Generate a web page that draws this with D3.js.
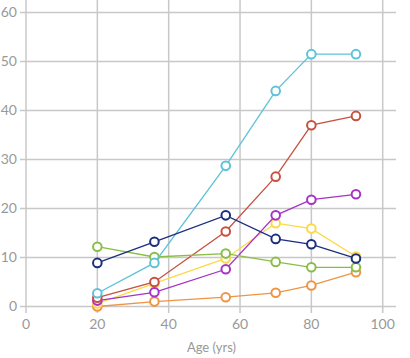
<!DOCTYPE html>
<html><head><meta charset="utf-8">
<script src="https://cdn.jsdelivr.net/npm/d3@7"></script>
<style>
body{margin:0;background:#fff;}
text{font-family:Lato, "Open Sans", sans-serif;}
</style></head>
<body><svg id="c" width="410" height="358"></svg>
<script>
const ages = [20, 36, 56, 70, 80, 92.5];
const xTicks = [0, 20, 40, 60, 80, 100];
const yTicks = [0, 10, 20, 30, 40, 50, 60];
const seriesNames = ["orange", "yellow", "purple", "red", "green", "cyan", "navy"];
const seriesColors = ["#ee9445", "#fbd948", "#a632c6", "#c8503f", "#8abd45", "#5cc3d8", "#1c2f7c"];
const orangeVals = [0, 1.0, 1.9, 2.8, 4.3, 7.0];
const yellowVals = [0.6, 4.7, 9.8, 17.0, 15.9, 10.2];
const purpleVals = [1.2, 2.9, 7.6, 18.6, 21.8, 22.9];
const redVals = [1.8, 5.0, 15.3, 26.5, 37.0, 38.9];
const greenVals = [12.2, 10.1, 10.8, 9.1, 8.0, 8.0];
const cyanVals = [2.7, 8.9, 28.7, 44.0, 51.5, 51.5];
const navyVals = [8.9, 13.2, 18.6, 13.8, 12.7, 9.8];
const allVals = [orangeVals, yellowVals, purpleVals, redVals, greenVals, cyanVals, navyVals];

const svg = d3.select("#c");
const x = d3.scaleLinear().domain([0, 100]).range([26, 382.7]);
const y = d3.scaleLinear().domain([0, 60]).range([306.5, 12.5]);
const grid = "#c8c8c8";

// vertical grid
svg.append("g").selectAll("line").data(xTicks).join("line")
  .attr("x1", d => x(d)).attr("x2", d => x(d))
  .attr("y1", 0).attr("y2", 313)
  .attr("stroke", grid).attr("stroke-width", 1.5);
// horizontal grid
svg.append("g").selectAll("line").data(yTicks).join("line")
  .attr("x1", 20).attr("x2", 396)
  .attr("y1", d => y(d)).attr("y2", d => y(d))
  .attr("stroke", grid).attr("stroke-width", 1.5);

// tick labels
svg.append("g").selectAll("text").data(yTicks).join("text")
  .attr("x", 17).attr("y", d => y(d)).attr("dy", "0.35em")
  .attr("text-anchor", "end").attr("fill", "#999").attr("font-size", 14)
  .text(d => d);
svg.append("g").selectAll("text").data(xTicks).join("text")
  .attr("x", d => x(d)).attr("y", 329)
  .attr("text-anchor", "middle").attr("fill", "#999").attr("font-size", 14)
  .text(d => d);
svg.append("text").attr("x", x(52)).attr("y", 352)
  .attr("text-anchor", "middle").attr("fill", "#999").attr("font-size", 13)
  .text("Age (yrs)");

const line = d3.line().x((d, i) => x(ages[i])).y(d => y(d));
allVals.forEach((vals, si) => {
  const g = svg.append("g");
  g.append("path").attr("d", line(vals)).attr("fill", "none")
    .attr("stroke", seriesColors[si]).attr("stroke-width", 1.3);
  g.selectAll("circle").data(vals).join("circle")
    .attr("cx", (d, i) => x(ages[i])).attr("cy", d => y(d)).attr("r", 4.3)
    .attr("fill", "#fff").attr("stroke", seriesColors[si]).attr("stroke-width", 2);
});
</script></body></html>
